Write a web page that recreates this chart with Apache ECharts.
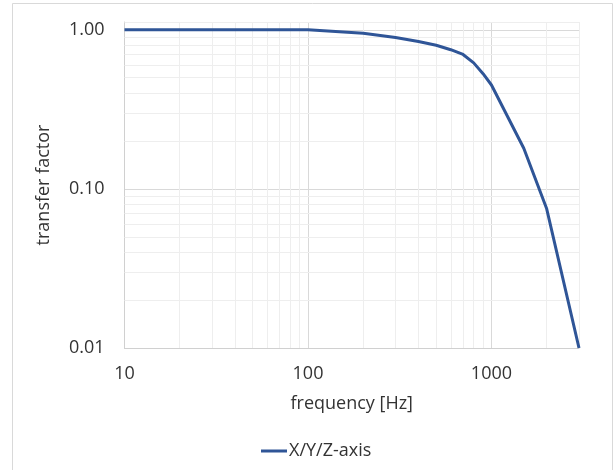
<!DOCTYPE html>
<html>
<head>
<meta charset="utf-8">
<script src="https://cdn.jsdelivr.net/npm/echarts@6/dist/echarts.min.js"></script>
<style>html,body{margin:0;padding:0;background:#fff}#c{width:616px;height:470px}</style>
</head>
<body>
<div id="c"></div>
<script>
const seriesName = 'X/Y/Z-axis';
const frequency = [10, 20, 50, 100, 200, 300, 400, 500, 600, 700, 800, 900, 1000, 1500, 2000, 3000];
const transfer  = [1.0, 1.0, 1.0, 1.0, 0.953, 0.895, 0.845, 0.80, 0.75, 0.70, 0.62, 0.53, 0.45, 0.18, 0.075, 0.01];
const xMinorGrid = [20,30,40,50,60,70,80,90,200,300,400,500,600,700,800,900,2000,3000];
const yMinorGrid = [0.02,0.03,0.04,0.05,0.06,0.07,0.08,0.09,0.2,0.3,0.4,0.5,0.6,0.7,0.8,0.9,1.12];
const xTitle = 'frequency [Hz]';
const yTitle = 'transfer factor';

const data = frequency.map((f, i) => [f, transfer[i]]);
const font = '"Open Sans", sans-serif';
const txt = '#333333';

const chart = echarts.init(document.getElementById('c'), null, {renderer: 'canvas'});
chart.setOption({
  animation: false,
  backgroundColor: '#fff',
  graphic: [{
    type: 'rect', shape: {x: 12.5, y: 3.5, width: 600, height: 500},
    style: {fill: 'none', stroke: '#d9d9d9', lineWidth: 1}, silent: true, z: -10
  }],
  grid: {left: 124.5, right: 37, top: 22, bottom: 122, containLabel: false},
  legend: {
    data: [seriesName], left: 256, top: 437,
    itemWidth: 26, itemHeight: 3, itemGap: 10,
    icon: 'rect',
    textStyle: {fontFamily: font, fontSize: 18, color: txt, padding: [0,0,0,-3]}
  },
  xAxis: {
    type: 'log', logBase: 10, min: 10, max: 3000,
    name: xTitle, nameLocation: 'middle', nameGap: 47,
    nameTextStyle: {fontFamily: font, fontSize: 18, color: txt},
    axisLine: {show: true, lineStyle: {color: '#d0d0d0', width: 1}},
    axisTick: {show: false},
    axisLabel: {fontFamily: font, fontSize: 18, color: txt, margin: 17,
      showMaxLabel: false,
      formatter: v => String(Math.round(v))},
    splitLine: {show: true, lineStyle: {color: '#d9d9d9', width: 1}},
    minorTick: {show: false}, minorSplitLine: {show: false}
  },
  yAxis: {
    type: 'log', logBase: 10, min: 0.01, max: 1.12,
    name: yTitle, nameLocation: 'middle', nameGap: 72, nameRotate: 90,
    nameTextStyle: {fontFamily: font, fontSize: 18, color: txt},
    axisLine: {show: true, lineStyle: {color: '#d0d0d0', width: 1}},
    axisTick: {show: false},
    axisLabel: {fontFamily: font, fontSize: 18, color: txt, margin: 20,
      showMaxLabel: false,
      formatter: v => Number(v).toFixed(2)},
    splitLine: {show: true, lineStyle: {color: '#d9d9d9', width: 1}},
    minorTick: {show: false}, minorSplitLine: {show: false}
  },
  series: [
    {
      name: 'grid-helper', type: 'line', data: data, z: 1,
      symbol: 'none', lineStyle: {opacity: 0}, silent: true,
      markLine: {
        silent: true, symbol: 'none', animation: false,
        label: {show: false},
        lineStyle: {color: '#eeeeee', width: 1, type: 'solid'},
        data: xMinorGrid.map(v => ({xAxis: v})).concat(yMinorGrid.map(v => ({yAxis: v})))
      }
    },
    {
      name: seriesName, type: 'line', data: data, z: 5,
      symbol: 'none', smooth: false,
      lineStyle: {color: '#2F5597', width: 3},
      itemStyle: {color: '#2F5597'}
    }
  ]
});
</script>
</body>
</html>
